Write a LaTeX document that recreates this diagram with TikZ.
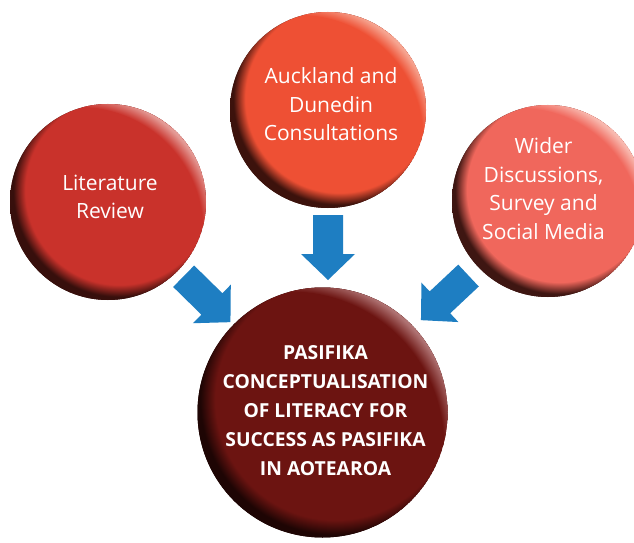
\documentclass[tikz,border=0pt]{standalone}
\usepackage{fontspec}
\setmainfont{Open Sans}
\usetikzlibrary{calc}

\definecolor{arrowblue}{RGB}{30,126,194}
\definecolor{litmain}{RGB}{201,50,43}
\definecolor{litdark}{RGB}{55,15,12}
\definecolor{litlight}{RGB}{228,155,150}
\definecolor{aucmain}{RGB}{238,80,52}
\definecolor{aucdark}{RGB}{60,18,12}
\definecolor{auclight}{RGB}{246,165,145}
\definecolor{widmain}{RGB}{240,103,92}
\definecolor{widdark}{RGB}{62,22,18}
\definecolor{widlight}{RGB}{248,185,175}
\definecolor{pasmain}{RGB}{108,20,17}
\definecolor{pasdark}{RGB}{30,5,4}
\definecolor{paslight}{RGB}{175,115,115}

% #1 prefix, #2-#5 positions (bp); the path's radius maps to 25bp
\newcommand\mkballshadings[5]{%
  \pgfdeclareradialshading{#1D}{\pgfpointorigin}{color(0bp)=(#1main); color(#2bp)=(#1main); color(#3bp)=(#1dark); color(50bp)=(#1dark)}%
  \pgfdeclareradialshading{#1H}{\pgfpointorigin}{color(0bp)=(#1main); color(#4bp)=(#1main); color(#5bp)=(#1light); color(50bp)=(#1light)}%
}
\mkballshadings{lit}{19.92}{22.46}{21.65}{23.95}
\mkballshadings{auc}{19.92}{22.46}{21.65}{23.95}
\mkballshadings{wid}{19.92}{22.46}{21.65}{23.95}
\mkballshadings{pas}{20.41}{22.96}{21.925}{24.15}

% #1 node, #2 prefix, #3 radius, #4 dark shift, #5 light shift, #6 hole radius
\newcommand\drawball[6]{%
  \begin{scope}
    \clip (#1.center) circle (#3);
    \fill[#2dark] (#1.center) circle (#3);
    \shade[shading=#2D] ($(#1.center)+({#4*0.7071},{#4*0.7071})$) circle ({#3+#4+4});
    \shade[shading=#2H, even odd rule]
      ($(#1.center)-({#5*0.7071},{#5*0.7071})$) circle ({#3+#5+4})
      ($(#1.center)-({#5*0.7071},{#5*0.7071})$) circle (#6);
  \end{scope}}

% block arrow from #1 (tail) to #2 (tip)
\newcommand\blockarrow[2]{%
  \coordinate (hb) at ($(#2)!26pt!(#1)$);
  \fill[arrowblue]
    ($(#1)!15pt!90:(#2)$) -- ($(hb)!15pt!90:(#2)$) -- ($(hb)!27pt!90:(#2)$) --
    (#2) -- ($(hb)!27pt!-90:(#2)$) -- ($(hb)!15pt!-90:(#2)$) -- ($(#1)!15pt!-90:(#2)$) -- cycle;}

\tikzset{
  ball/.style={circle, inner sep=0pt, outer sep=0pt, draw=none},
  balltext/.style={text=white, align=center, font=\fontsize{21}{28.5}\selectfont},
  maintext/.style={text=white, align=center, font=\bfseries\fontsize{19.3}{29}\selectfont},
}

\begin{document}
\begin{tikzpicture}[x=1pt,y=1pt]
\useasboundingbox (0,0) rectangle (634,542);
\fill[white] (0,0) rectangle (634,542);

\node[ball, minimum size=196] (lit) at (108,340) {};
\node[ball, minimum size=196] (auck) at (328,432) {};
\node[ball, minimum size=192] (wider) at (548,341) {};
\node[ball, minimum size=250] (main) at (322.5,129.5) {};

\drawball{lit}{lit}{98}{16}{40}{122.98}
\drawball{auck}{auc}{98}{16}{40}{122.98}
\drawball{wider}{wid}{96}{16}{40}{121.06}
\drawball{main}{pas}{125}{18}{45}{152.56}

\node[balltext] (littxt) at (110,345) {Literature\\Review};
\node[balltext] (auctxt) at (331,437.5) {Auckland and\\Dunedin\\Consultations};
\node[balltext] (widtxt) at (543.5,353.5) {Wider\\Discussions,\\Survey and\\Social Media};
\node[maintext] (maintxt) at (325.5,131.5) {PASIFIKA\\CONCEPTUALISATION\\OF LITERACY FOR\\SUCCESS AS PASIFIKA\\IN AOTEAROA};

\coordinate (a1t) at ($(lit)!106pt!(main)$);
\coordinate (a1h) at ($(main)!129pt!(lit)$);
\blockarrow{a1t}{a1h}
\coordinate (a2t) at ($(auck.south)+(0,-7)$);
\coordinate (a2h) at ($(auck |- main.north)+(0,7.5)$);
\blockarrow{a2t}{a2h}
\coordinate (a3t) at ($(wider)!109pt!(main)$);
\coordinate (a3h) at ($(main)!135pt!(wider)$);
\blockarrow{a3t}{a3h}
\end{tikzpicture}
\end{document}
